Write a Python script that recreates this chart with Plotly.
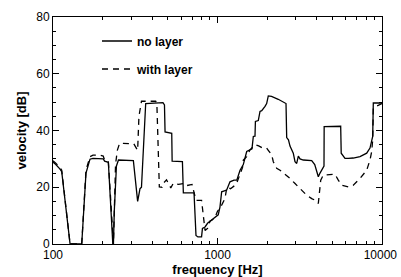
import plotly.graph_objects as go

# ---- data ----
freq_no_layer = [100, 104, 110, 113, 127, 149.5, 158.7, 167.9, 175, 195, 202, 206, 217, 231, 233,
                 236, 243, 250, 300, 308, 327, 338, 345, 354, 362, 366, 466, 476, 480, 527, 530,
                 612, 620, 720, 740, 760, 800, 810, 840, 870, 900, 940, 985, 1010, 1035, 1060,
                 1137, 1191, 1260, 1310, 1371, 1403, 1435, 1505, 1576, 1620, 1651, 1690, 1700,
                 1770, 1813, 1857, 1945, 1990, 2036, 2130, 2340, 2572, 2609, 2634, 2700, 2759,
                 2830, 2889, 2959, 3030, 3100, 3173, 3324, 3650, 3738, 3900, 4101, 4200, 4398,
                 4440, 4450, 5555, 5609, 5650, 5957, 6239, 6691, 7350, 8072, 8453, 8780, 8854,
                 10000]
db_no_layer = [28.8, 28, 26.5, 25.5, 0, 0, 25, 29.9, 30.2, 30.2, 30, 29.2, 28.8, 0, 0,
               12, 27.5, 29.6, 29.6, 29.4, 15, 19.5, 20, 35, 47, 49.5, 49.8, 49, 39.5, 39, 29.2,
               29, 18, 18, 3, 2.5, 2.5, 5.5, 6, 7.3, 8, 8.9, 10, 10.3, 13, 18.4,
               19, 21.9, 22.5, 22.5, 26, 27.2, 28, 32.6, 33.2, 33.5, 37.9, 38, 43.2,
               43.5, 46.7, 47, 48.5, 49.5, 52.2, 52, 51, 49.7, 49.5, 37.5, 36.7, 34.5,
               33, 32, 29, 28.4, 31, 30, 29.6, 29.6, 29.4, 28, 23.7, 25, 27.2,
               27.5, 41.4, 41.6, 41.5, 32, 30.2, 30.2, 30.3, 30.8, 32, 33.8, 37.9, 49.7,
               49.7]

freq_with_layer = [100, 104, 110, 113, 127, 149.5, 158.7, 167.9, 175, 190, 202, 206, 217, 231, 233,
                   240, 246, 254, 305, 310, 327, 333, 345, 421, 428, 443, 460, 470, 490, 505, 520,
                   540, 580, 620, 640, 700, 740, 800, 815, 840, 870, 900, 960, 1000, 1060, 1110,
                   1140, 1200, 1300, 1370, 1420, 1436, 1505, 1540, 1576, 1690, 1780, 1880, 1990,
                   2036, 2135, 2184, 2290, 2400, 2550, 2634, 2759, 2960, 3250, 3485, 3738, 3900,
                   4101, 4241, 4400, 4800, 5178, 5424, 5689, 6239, 6691, 7350, 8072, 8453, 8658,
                   8780, 8854, 10000]
db_with_layer = [29.3, 28.5, 27, 26, 0, 0, 26, 30.8, 31.3, 31.4, 31, 29.5, 29, 0, 0,
                 28, 33, 35.5, 35.5, 35.3, 33, 45, 50.3, 50.3, 49.5, 20.1, 20, 21.5, 22.6, 21, 19.8,
                 21.5, 21, 21.3, 20.5, 21, 15.4, 15.4, 10.5, 4.8, 5.5, 8, 9, 11.5, 13.7, 16,
                 20, 19.5, 21, 25, 27, 29.6, 30.8, 32, 33.2, 35, 34.6, 33.8, 33.8,
                 33, 31.4, 29, 26.7, 26, 24.8, 24.3, 23.1, 21.3, 19, 17.2, 16, 15.5,
                 14.3, 22.5, 24.3, 24.5, 24.6, 22.5, 20.7, 20.1, 20.7, 23.1, 26, 29.6, 32.6,
                 36.7, 48, 49.5]

series_names = ["no layer", "with layer"]
x_tick_vals = [100, 1000, 10000]
x_tick_text = ["100", "1000", "10000&nbsp;"]
x_minor_vals = [200, 300, 400, 500, 600, 700, 800, 900,
                2000, 3000, 4000, 5000, 6000, 7000, 8000, 9000]
y_tick_vals = [0, 20, 40, 60, 80]

fig = go.Figure()
fig.add_trace(go.Scatter(x=freq_no_layer, y=db_no_layer, mode="lines", name=series_names[0],
                         legendgroup="a",
                         line=dict(color="black", width=1.3)))
fig.add_trace(go.Scatter(x=freq_with_layer, y=db_with_layer, mode="lines", name=series_names[1],
                         legendgroup="b",
                         line=dict(color="black", width=1.3, dash="6px,5px")))

axis_common = dict(showline=True, linecolor="black", linewidth=1, mirror="ticks",
                   ticks="inside", tickcolor="black", tickwidth=1, ticklen=6,
                   showgrid=False, zeroline=False, automargin=False,
                   tickfont=dict(family="Liberation Sans, Arial, sans-serif", size=12, color="black"))

fig.update_xaxes(type="log", range=[2, 4], tickmode="array", tickvals=x_tick_vals,
                 ticktext=x_tick_text, ticklabelstandoff=0, ticklabeloverflow="allow",
                 minor=dict(tickmode="array", tickvals=x_minor_vals, ticks="inside",
                            ticklen=3, tickcolor="black", showgrid=False),
                 title=dict(text="frequency [Hz]", standoff=7,
                            font=dict(family="Liberation Sans, Arial, sans-serif", size=13,
                                      color="black", weight="bold")),
                 **axis_common)
fig.update_yaxes(range=[0, 80], tickmode="array", tickvals=y_tick_vals,
                 minor=dict(dtick=5, ticks="inside", ticklen=3, tickcolor="black", showgrid=False),
                 title=dict(text="velocity [dB]", standoff=6,
                            font=dict(family="Liberation Sans, Arial, sans-serif", size=13,
                                      color="black", weight="bold")),
                 **axis_common)

fig.update_layout(
    width=401, height=277,
    margin=dict(l=53, r=19, t=17, b=33, autoexpand=False),
    paper_bgcolor="white", plot_bgcolor="white",
    showlegend=True,
    legend=dict(x=(97 - 53) / 329, y=(243.5 - 26) / 227, xanchor="left", yanchor="top",
                bgcolor="rgba(0,0,0,0)", borderwidth=0, itemwidth=30, tracegroupgap=9,
                font=dict(family="Liberation Sans, Arial, sans-serif", size=12, color="black",
                          weight="bold")),
)

fig.write_html("out.html", config={"displayModeBar": False},
               post_script="document.body.style.margin='0';document.body.style.overflow='hidden';")
